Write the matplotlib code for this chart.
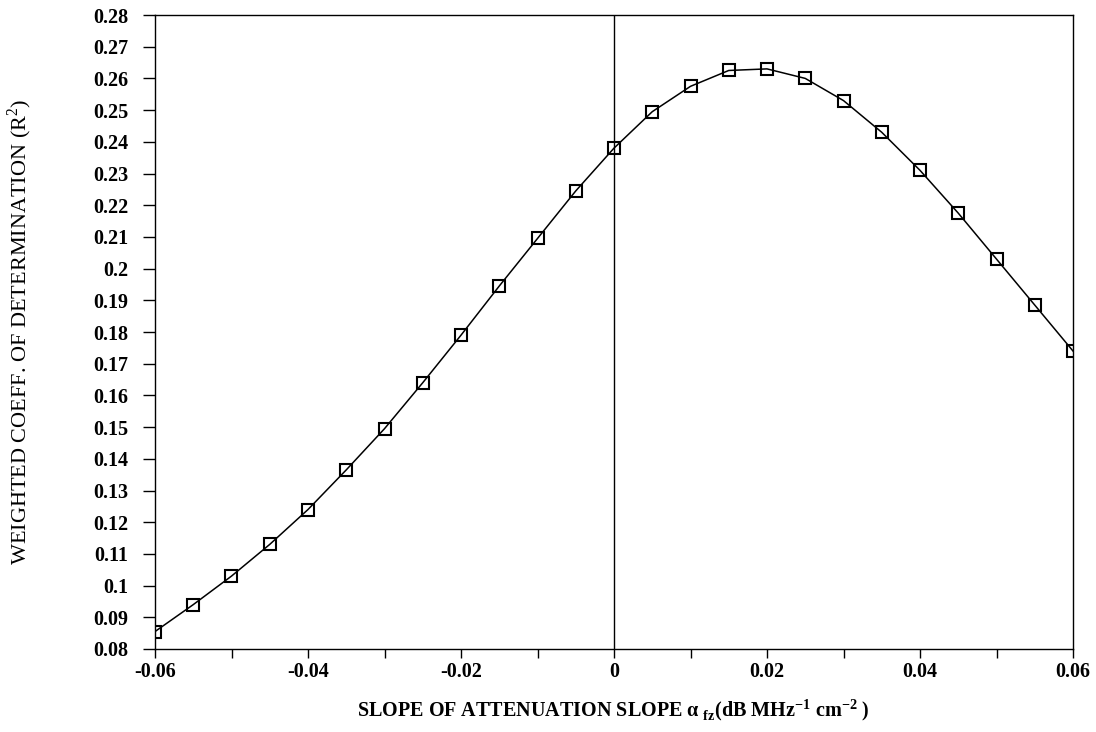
import numpy as np
import matplotlib
matplotlib.use("Agg")
import matplotlib.pyplot as plt
from matplotlib.ticker import MultipleLocator, FuncFormatter

# attenuation slope values and weighted R^2
slope = [-0.06, -0.055, -0.05, -0.045, -0.04, -0.035, -0.03, -0.025, -0.02,
         -0.015, -0.01, -0.005, 0.0, 0.005, 0.01, 0.015, 0.02, 0.025, 0.03,
         0.035, 0.04, 0.045, 0.05, 0.055, 0.06]
r2 = [0.0855, 0.094, 0.103, 0.113, 0.124, 0.1365, 0.1495, 0.164, 0.179,
      0.1945, 0.2095, 0.2245, 0.238, 0.2495, 0.2575, 0.2625, 0.263, 0.260,
      0.253, 0.243, 0.231, 0.2175, 0.203, 0.1885, 0.174]

plt.rcParams["font.family"] = ["Liberation Serif", "DejaVu Serif"]
plt.rcParams["axes.unicode_minus"] = False
plt.rcParams["mathtext.fontset"] = "custom"
plt.rcParams["mathtext.rm"] = "Liberation Serif"
plt.rcParams["mathtext.bf"] = "Liberation Serif:bold"

fig = plt.figure(figsize=(10.96, 7.32), dpi=100)
ax = fig.add_axes([155 / 1096, 1 - 649 / 732, (1073 - 155) / 1096, (649 - 15) / 732])

ax.plot(slope, r2, color="black", lw=1.1, marker="s", ms=8.5,
        mfc="none", mec="black", mew=1.5)
ax.axvline(0, color="black", lw=1.0)

ax.set_xlim(-0.06, 0.06)
ax.set_ylim(0.08, 0.28)
ax.xaxis.set_major_locator(MultipleLocator(0.02))
ax.xaxis.set_minor_locator(MultipleLocator(0.01))
ax.yaxis.set_major_locator(MultipleLocator(0.01))

fmt = FuncFormatter(lambda v, p: f"{round(v, 3):g}")
ax.xaxis.set_major_formatter(fmt)
ax.yaxis.set_major_formatter(fmt)

ax.tick_params(axis="both", which="both", direction="out", width=1.0)
ax.tick_params(axis="x", which="both", length=6.5, pad=3)
ax.tick_params(axis="y", which="major", length=9, pad=10)
for lab in ax.get_xticklabels() + ax.get_yticklabels():
    lab.set_fontsize(14.5)
    lab.set_fontweight("bold")
for s in ax.spines.values():
    s.set_linewidth(1.0)

fig.text(613 / 1096, 1 - 710 / 732,
         r"SLOPE OF ATTENUATION SLOPE $\mathbf{\alpha}_{\ \mathbf{fz}}$(dB MHz$^{\mathbf{-1}}$ cm$^{\mathbf{-2}}$ )",
         ha="center", va="center", fontsize=14.5, fontweight="bold")
fig.text(20 / 1096, 1 - 332 / 732, r"WEIGHTED COEFF. OF DETERMINATION (R$^{2}$)",
         ha="center", va="center", rotation=90, fontsize=16)

fig.savefig("out.png", dpi=100)
